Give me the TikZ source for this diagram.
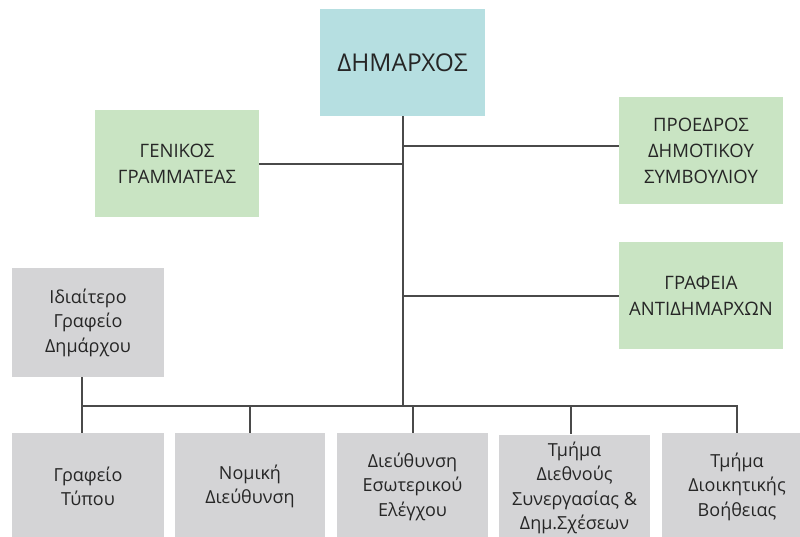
\documentclass[tikz,border=0pt]{standalone}
\usepackage{fontspec}
\setmainfont{Open Sans}
\definecolor{boxblue}{HTML}{B6DFE1}
\definecolor{boxgreen}{HTML}{C9E4C3}
\definecolor{boxgrey}{HTML}{D4D4D6}
\definecolor{txt}{HTML}{262626}
\definecolor{ln}{HTML}{4A4A4A}
\begin{document}
\begin{tikzpicture}[x=1pt,y=-1pt,
  base/.style={rectangle,inner sep=0pt,align=center,text=txt,draw=none},
  bluebox/.style={base,fill=boxblue,minimum width=165pt,minimum height=107pt,font=\fontsize{24.5}{30}\selectfont},
  greenbox/.style={base,fill=boxgreen,minimum width=164pt,minimum height=107pt,font=\fontsize{18.5}{26}\selectfont},
  greybox/.style={base,fill=boxgrey,minimum width=151pt,minimum height=107pt,font=\fontsize{18}{24.5}\selectfont},
  conn/.style={draw=ln,line width=2pt}]
\useasboundingbox (0,0) rectangle (800,537);
\fill[white] (0,0) rectangle (800,537);

\node[bluebox] (may) at (402.5,62.5) {ΔΗΜΑΡΧΟΣ};
\node[greenbox] (gen) at (177,164) {ΓΕΝΙΚΟΣ\\ΓΡΑΜΜΑΤΕΑΣ};
\node[greenbox] (pro) at (701,150.5) {ΠΡΟΕΔΡΟΣ\\ΔΗΜΟΤΙΚΟΥ\\ΣΥΜΒΟΥΛΙΟΥ};
\node[greenbox] (ant) at (701,295.5) {ΓΡΑΦΕΙΑ\\ΑΝΤΙΔΗΜΑΡΧΩΝ};
\node[greybox,minimum width=152pt,minimum height=109pt] (idi) at (88,322.5) {Ιδιαίτερο\\Γραφείο\\Δημάρχου};

\node[greybox,minimum width=152pt] (b1) at (88,486.5) {Γραφείο\\Τύπου};
\node[greybox,minimum width=150pt] (b2) at (250,486.5) {Νομική\\Διεύθυνση};
\node[greybox] (b3) at (412.5,486.5) {Διεύθυνση\\Εσωτερικού\\Ελέγχου};
\node[greybox] (b4) at (574.5,488) {Τμήμα\\Διεθνούς\\Συνεργασίας \&\\Δημ.Σχέσεων};
\node[greybox,minimum width=150pt] (b5) at (737,486.5) {Τμήμα\\Διοικητικής\\Βοήθειας};

\coordinate (trunk) at (403,406);
\coordinate (proj) at (403,146);
\coordinate (busL) at (82,406);
\coordinate (busR) at (737,406);

\draw[conn] (may.south -| trunk) -- (trunk);
\draw[conn] (gen.east) -- (gen.east -| trunk);
\draw[conn] (proj) -- (proj -| pro.west);
\draw[conn] (ant.west -| trunk) -- (ant.west);
\draw[conn] (idi.south -| busL) -- (b1.north -| busL);
\draw[conn] (busL) -- (busR) -- (b5.north);
\draw[conn] (b2.north |- trunk) -- (b2.north);
\draw[conn] (b3.north |- trunk) -- (b3.north);
\draw[conn] ([xshift=-4pt]b4.north |- trunk) -- ([xshift=-4pt]b4.north);
\end{tikzpicture}
\end{document}
